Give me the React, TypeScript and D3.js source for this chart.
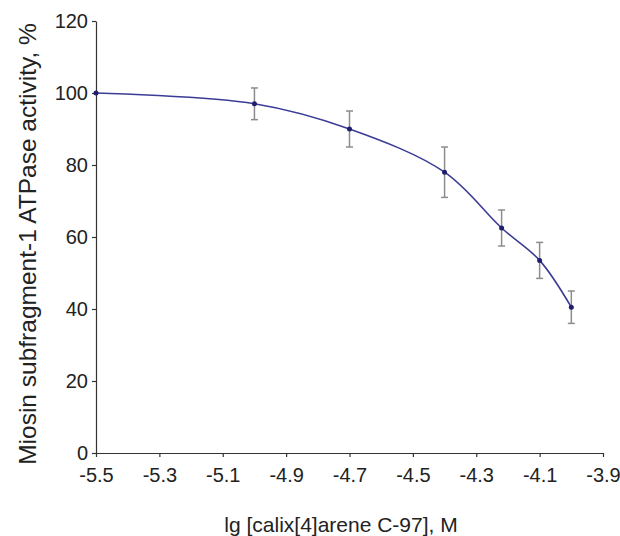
import React from "react";
import * as d3 from "d3";

const logConc = [-5.5, -5.0, -4.7, -4.4, -4.22, -4.1, -4.0];
const activity = [100, 97, 90, 78, 62.5, 53.5, 40.5];
const errors = [0, 4.4, 5, 7, 5, 5, 4.5];
const xTicks = [-5.5, -5.3, -5.1, -4.9, -4.7, -4.5, -4.3, -4.1, -3.9];
const yTicks = [0, 20, 40, 60, 80, 100, 120];

const width = 620;
const height = 536;
const margin = { left: 96, right: 17, top: 21, bottom: 83 };
const font = "Liberation Sans, Arial, sans-serif";

const App = () => {
  const ref = React.useRef<SVGSVGElement>(null);

  React.useEffect(() => {
    const svg = d3.select(ref.current);
    svg.selectAll("*").remove();

    const xScale = d3.scaleLinear([-5.5, -3.9], [margin.left, width - margin.right]);
    const yScale = d3.scaleLinear([0, 120], [height - margin.bottom, margin.top]);
    const data = logConc.map((x, i) => ({ x, y: activity[i], e: errors[i] }));

    // axes
    const xAxis = d3.axisBottom(xScale).tickValues(xTicks)
      .tickSize(4).tickSizeOuter(0).tickFormat(d => (+d).toFixed(1));
    const gx = svg.append("g")
      .attr("transform", `translate(0,${height - margin.bottom})`)
      .call(xAxis);
    gx.selectAll("text").attr("dy", "0.9em").attr("y", 11);

    const yAxis = d3.axisLeft(yScale).tickValues(yTicks)
      .tickSize(4).tickSizeOuter(0).tickFormat(d => String(d));
    const gy = svg.append("g")
      .attr("transform", `translate(${margin.left},0)`)
      .call(yAxis);
    gy.selectAll("text").attr("x", -8);

    svg.selectAll(".domain, .tick line").attr("stroke", "#333").attr("stroke-width", 1.2);
    svg.selectAll(".tick text")
      .attr("font-family", font).attr("font-size", 20).attr("fill", "#222");

    // error bars
    const bars = svg.append("g").attr("stroke", "#8c8c8c").attr("stroke-width", 1.5);
    data.filter(d => d.e > 0).forEach(d => {
      const cx = xScale(d.x);
      const y0 = yScale(d.y - d.e);
      const y1 = yScale(d.y + d.e);
      bars.append("line").attr("x1", cx).attr("x2", cx).attr("y1", y0).attr("y2", y1);
      bars.append("line").attr("x1", cx - 3.5).attr("x2", cx + 3.5).attr("y1", y0).attr("y2", y0);
      bars.append("line").attr("x1", cx - 3.5).attr("x2", cx + 3.5).attr("y1", y1).attr("y2", y1);
    });

    // curve
    const line = d3.line<{ x: number; y: number }>()
      .x(d => xScale(d.x)).y(d => yScale(d.y))
      .curve(d3.curveCatmullRom.alpha(0.5));
    svg.append("path")
      .datum(data)
      .attr("fill", "none")
      .attr("stroke", "#3c3c96")
      .attr("stroke-width", 1.6)
      .attr("d", line);

    svg.append("g").selectAll("circle")
      .data(data).enter().append("circle")
      .attr("cx", d => xScale(d.x))
      .attr("cy", d => yScale(d.y))
      .attr("r", 2.5)
      .attr("fill", "#1f1f6e");

    // titles
    svg.append("text")
      .attr("x", 341)
      .attr("y", 532)
      .attr("text-anchor", "middle")
      .attr("font-family", font).attr("font-size", 21).attr("fill", "#222")
      .text("lg [calix[4]arene C-97], M");

    svg.append("text")
      .attr("transform", `translate(27,${244}) rotate(-90)`)
      .attr("text-anchor", "middle")
      .attr("dy", "0.35em")
      .attr("font-family", font).attr("font-size", 24.5).attr("fill", "#222")
      .text("Miosin subfragment-1 ATPase activity, %");
  }, []);

  return (
    <svg
      ref={ref}
      width={width}
      height={height}
      style={{ position: "absolute", left: 0, top: 0, background: "#fff" }}
    />
  );
};

export default App;
